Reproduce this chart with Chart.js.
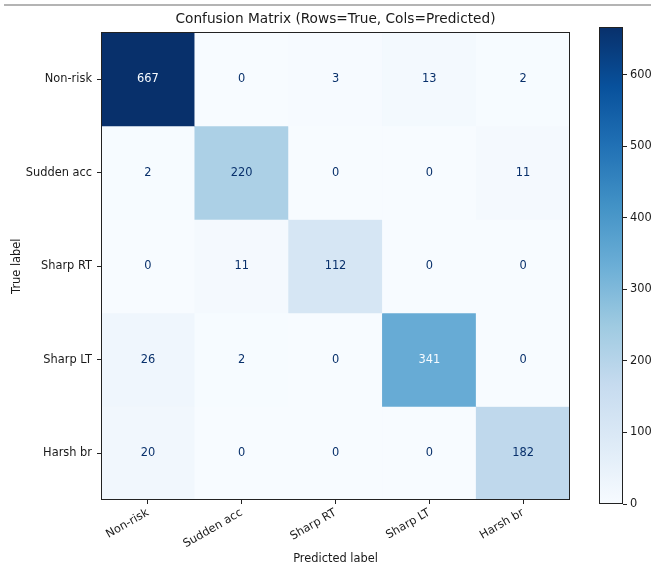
<!DOCTYPE html>
<html>
<head>
<meta charset="utf-8">
<script src="https://cdn.jsdelivr.net/npm/chart.js@4.4.1/dist/chart.umd.min.js"></script>
<style>
  html, body { margin: 0; padding: 0; background: #ffffff; }
  #wrap { position: relative; width: 651px; height: 570px; overflow: hidden; }
  #rule { position: absolute; left: 4px; right: 0; top: 4px; height: 2px; background: #b4b4b4; }
  canvas { position: absolute; left: 0; top: 0; }
</style>
</head>
<body>
<div id="wrap">
  <div id="rule"></div>
  <canvas id="matrix" width="651" height="570"></canvas>
  <canvas id="colorbar" width="651" height="570"></canvas>
</div>
<script>
// Class names, shared by both axes
const classLabels = ['Non-risk', 'Sudden acc', 'Sharp RT', 'Sharp LT', 'Harsh br'];

// Counts per true class (one row each), columns are predicted classes
const rowNonRisk   = [667, 0, 3, 13, 2];
const rowSuddenAcc = [2, 220, 0, 0, 11];
const rowSharpRT   = [0, 11, 112, 0, 0];
const rowSharpLT   = [26, 2, 0, 341, 0];
const rowHarshBr   = [20, 0, 0, 0, 182];

const colorbarTicks = [0, 100, 200, 300, 400, 500, 600];

const matrixRows = [rowNonRisk, rowSuddenAcc, rowSharpRT, rowSharpLT, rowHarshBr];
const allCounts = matrixRows.flat();
const vmin = Math.min(...allCounts);
const vmax = Math.max(...allCounts);

// "Blues" sequential palette
const bluesStops = ['#f7fbff', '#deebf7', '#c6dbef', '#9ecae1', '#6baed6',
                    '#4292c6', '#2171b5', '#08519c', '#08306b'];

function hexToRgb(h) {
  return [parseInt(h.slice(1, 3), 16), parseInt(h.slice(3, 5), 16), parseInt(h.slice(5, 7), 16)];
}
function blues(t) {
  t = Math.max(0, Math.min(1, t));
  const pos = t * (bluesStops.length - 1);
  const i = Math.min(Math.floor(pos), bluesStops.length - 2);
  const f = pos - i;
  const a = hexToRgb(bluesStops[i]), b = hexToRgb(bluesStops[i + 1]);
  const c = a.map((v, k) => Math.round(v + (b[k] - v) * f));
  return `rgb(${c[0]},${c[1]},${c[2]})`;
}

const FONT = 'DejaVu Sans';
const FS = 11.4;
const TEXT = '#1a1a1a';
const EDGE = '#222222';
Chart.defaults.font.family = FONT;
Chart.defaults.color = TEXT;
Chart.defaults.animation = false;

// Each true-class row becomes one dataset of floating bars spanning [row-0.5, row+0.5]
const datasets = matrixRows.map((row, r) => ({
  label: classLabels[r],
  data: row.map(() => [r - 0.5, r + 0.5]),
  counts: row,
  backgroundColor: row.map(v => blues((v - vmin) / (vmax - vmin))),
  borderWidth: 0,
  grouped: false,
  barPercentage: 1,
  categoryPercentage: 1
}));

// Count written in the middle of every cell
const cellText = {
  id: 'cellText',
  afterDatasetsDraw(chart) {
    const ctx = chart.ctx;
    const threshold = (vmax + vmin) / 2;
    ctx.save();
    ctx.font = `${FS}px "${FONT}"`;
    ctx.textAlign = 'center';
    ctx.textBaseline = 'middle';
    chart.data.datasets.forEach((ds, di) => {
      chart.getDatasetMeta(di).data.forEach((bar, i) => {
        const v = ds.counts[i];
        ctx.fillStyle = v > threshold ? bluesStops[0] : bluesStops[bluesStops.length - 1];
        ctx.fillText(String(v), bar.x, (bar.y + bar.base) / 2);
      });
    });
    ctx.restore();
  }
};

// Outline round a chart area
const frame = {
  id: 'frame',
  afterDatasetsDraw(chart) {
    const { left, top, right, bottom } = chart.chartArea;
    const ctx = chart.ctx;
    ctx.save();
    ctx.strokeStyle = EDGE;
    ctx.lineWidth = 1;
    ctx.strokeRect(Math.round(left) + 0.5, Math.round(top) + 0.5,
                   Math.round(right - left) - 1, Math.round(bottom - top) - 1);
    ctx.restore();
  }
};

new Chart(document.getElementById('matrix'), {
  type: 'bar',
  data: { labels: classLabels, datasets },
  options: {
    responsive: false,
    layout: { padding: { left: 0, right: 81, top: 0, bottom: 0 } },
    plugins: {
      legend: { display: false },
      tooltip: { enabled: false },
      title: {
        display: true,
        fullSize: false,
        text: 'Confusion Matrix (Rows=True, Cols=Predicted)',
        color: TEXT,
        font: { family: FONT, size: 13.7, weight: 'normal' },
        padding: { top: 11, bottom: 5 }
      }
    },
    scales: {
      x: {
        type: 'category',
        offset: true,
        grid: { display: true, offset: false, drawOnChartArea: false, tickLength: 4, color: EDGE },
        border: { display: false },
        ticks: { minRotation: 30, maxRotation: 30, autoSkip: false, padding: 2,
                 color: TEXT, font: { size: FS } },
        title: { display: true, text: 'Predicted label', color: TEXT,
                 font: { size: FS }, padding: { top: 1 } },
        afterFit(s) { s.height = 70; }
      },
      y: {
        type: 'linear',
        reverse: true,
        min: -0.5,
        max: 4.5,
        afterBuildTicks(s) { s.ticks = classLabels.map((_, i) => ({ value: i })); },
        grid: { display: true, drawOnChartArea: false, tickLength: 4, color: EDGE },
        border: { display: false },
        ticks: { padding: 5, color: TEXT, font: { size: FS },
                 callback: v => classLabels[v] },
        title: { display: true, text: 'True label', color: TEXT,
                 font: { size: FS }, padding: { top: 10 } },
        afterFit(s) { s.width = 101; }
      }
    }
  },
  plugins: [cellText, frame]
});

// Colour scale bar
new Chart(document.getElementById('colorbar'), {
  type: 'bar',
  data: {
    labels: [''],
    datasets: [{
      data: [[vmin, vmax]],
      backgroundColor(c) {
        const ca = c.chart.chartArea;
        if (!ca) return bluesStops[4];
        const g = c.chart.ctx.createLinearGradient(0, ca.bottom, 0, ca.top);
        bluesStops.forEach((col, i) => g.addColorStop(i / (bluesStops.length - 1), col));
        return g;
      },
      borderWidth: 0,
      barPercentage: 1,
      categoryPercentage: 1
    }]
  },
  options: {
    responsive: false,
    layout: { padding: { left: 599, right: 0, top: 27, bottom: 66 } },
    plugins: { legend: { display: false }, tooltip: { enabled: false }, title: { display: false } },
    scales: {
      x: { display: false },
      y: {
        position: 'right',
        min: vmin,
        max: vmax,
        afterBuildTicks(s) { s.ticks = colorbarTicks.map(v => ({ value: v })); },
        grid: { display: true, drawOnChartArea: false, tickLength: 4, color: EDGE },
        border: { display: false },
        ticks: { padding: 3, color: TEXT, font: { size: FS } },
        afterFit(s) { s.width = 28; }
      }
    }
  },
  plugins: [frame]
});
</script>
</body>
</html>
